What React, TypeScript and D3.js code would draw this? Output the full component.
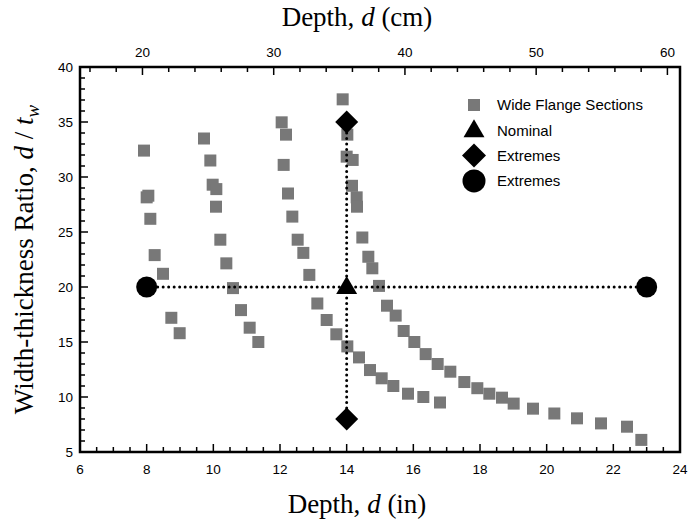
import React, { useRef, useEffect } from 'react';
import * as d3 from 'd3';

// wide flange sections: depth (in) and d/tw ratio
const wideFlangeDepth = [
  7.92, 8.0, 8.05, 8.11, 8.24, 8.49, 8.74, 8.99,
  9.72, 9.91, 9.98, 10.09, 10.08, 10.21, 10.39, 10.59, 10.83, 11.09, 11.35,
  12.05, 12.18, 12.11, 12.24, 12.37, 12.53, 12.7, 12.88, 13.12, 13.4, 13.69, 14.02,
  14.37, 14.7, 15.05, 15.4, 15.84, 16.3, 16.8,
  13.88, 14.02, 14.0, 14.18, 14.16, 14.3, 14.31, 14.47, 14.65, 14.77, 14.97, 15.21,
  15.47, 15.71, 16.03, 16.37, 16.73, 17.11, 17.53, 17.92, 18.28, 18.66, 19.01,
  19.59, 20.23, 20.91, 21.63, 22.41, 22.84,
];
const wideFlangeRatio = [
  32.4, 28.15, 28.3, 26.2, 22.9, 21.2, 17.2, 15.8,
  33.5, 31.5, 29.3, 28.9, 27.3, 24.3, 22.15, 19.9, 17.9, 16.3, 15.0,
  34.97, 33.85, 31.1, 28.5, 26.4, 24.3, 23.1, 21.1, 18.5, 17.0, 15.7, 14.6,
  13.6, 12.45, 11.7, 11.0, 10.3, 10.0, 9.5,
  37.06, 33.85, 31.85, 31.55, 29.2, 28.15, 27.3, 24.5, 22.75, 21.7, 20.1, 18.3,
  17.4, 16.0, 15.0, 13.9, 13.0, 12.3, 11.36, 10.8, 10.3, 9.94, 9.4,
  8.94, 8.5, 8.06, 7.6, 7.3, 6.1,
];

const nominal = { depth: 14, ratio: 20 };
const ratioExtremes = [35, 8];   // at nominal depth
const depthExtremes = [8, 23];   // at nominal ratio

const xTicks = [6, 8, 10, 12, 14, 16, 18, 20, 22, 24];
const cmTicks = [20, 30, 40, 50, 60];
const yTicks = [5, 10, 15, 20, 25, 30, 35, 40];

const legendLabels = ['Wide Flange Sections', 'Nominal', 'Extremes', 'Extremes'];

const App = () => {
  const svgRef = useRef(null);

  useEffect(() => {
    const svg = d3.select(svgRef.current);
    svg.selectAll('*').remove();

    const margin = { top: 67, right: 9, bottom: 73, left: 80 };
    const width = 689, height = 525;
    const x = d3.scaleLinear().domain([6, 24]).range([margin.left, width - margin.right]);
    const y = d3.scaleLinear().domain([5, 40]).range([height - margin.bottom, margin.top]);
    const x0 = x(6), x1 = x(24), y0 = y(5), y1 = y(40);

    const sans = '"Liberation Sans", Arial, sans-serif';
    const serif = '"Liberation Serif", "Times New Roman", serif';

    const g = svg.append('g');

    // ticks (inward)
    const ticks = g.append('g').attr('stroke', '#000').attr('stroke-width', 1.5);
    d3.range(6, 24.01, 0.5).forEach((v) => {
      const major = Math.abs(v % 2) < 1e-6;
      const len = major ? 8 : 5;
      ticks.append('line').attr('x1', x(v)).attr('x2', x(v)).attr('y1', y0).attr('y2', y0 - len);
    });
    d3.range(16, 62.1, 2).forEach((cm) => {
      const v = cm / 2.54;
      if (v < 6 || v > 24) return;
      const len = cm % 10 === 0 ? 8 : 5;
      ticks.append('line').attr('x1', x(v)).attr('x2', x(v)).attr('y1', y1).attr('y2', y1 + len);
    });
    d3.range(5, 40.1, 1).forEach((v) => {
      const len = v % 5 === 0 ? 8 : 5;
      ticks.append('line').attr('x1', x0).attr('x2', x0 + len).attr('y1', y(v)).attr('y2', y(v));
    });

    // tick labels
    g.selectAll('text.xt').data(xTicks).enter().append('text')
      .attr('x', (d) => x(d)).attr('y', y0 + 22)
      .attr('text-anchor', 'middle').style('font-family', sans).style('font-size', '13.5px')
      .text((d) => d);
    g.selectAll('text.ct').data(cmTicks).enter().append('text')
      .attr('x', (d) => x(d / 2.54)).attr('y', y1 - 10)
      .attr('text-anchor', 'middle').style('font-family', sans).style('font-size', '13.5px')
      .text((d) => d);
    g.selectAll('text.yt').data(yTicks).enter().append('text')
      .attr('x', x0 - 7).attr('y', (d) => y(d)).attr('dy', '0.35em')
      .attr('text-anchor', 'end').style('font-family', sans).style('font-size', '13.5px')
      .text((d) => d);

    // axis titles
    const bottomTitle = g.append('text').attr('x', 357).attr('y', 513)
      .attr('text-anchor', 'middle').style('font-family', serif).style('font-size', '27px');
    bottomTitle.append('tspan').text('Depth, ');
    bottomTitle.append('tspan').style('font-style', 'italic').text('d');
    bottomTitle.append('tspan').text(' (in)');

    const topTitle = g.append('text').attr('x', 357).attr('y', 26)
      .attr('text-anchor', 'middle').style('font-family', serif).style('font-size', '27px');
    topTitle.append('tspan').text('Depth, ');
    topTitle.append('tspan').style('font-style', 'italic').text('d');
    topTitle.append('tspan').text(' (cm)');

    const yTitle = g.append('text')
      .attr('transform', `translate(33,${(y0 + y1) / 2}) rotate(-90)`)
      .attr('text-anchor', 'middle').style('font-family', serif).style('font-size', '27px');
    yTitle.append('tspan').text('Width-thickness Ratio, ');
    yTitle.append('tspan').style('font-style', 'italic').text('d');
    yTitle.append('tspan').text(' / ');
    yTitle.append('tspan').style('font-style', 'italic').text('t');
    yTitle.append('tspan').style('font-style', 'italic').style('font-size', '19px').attr('dy', 6).text('w');

    // wide flange squares
    const sq = 12;
    g.append('g').selectAll('rect').data(wideFlangeDepth).enter().append('rect')
      .attr('x', (d) => x(d) - sq / 2)
      .attr('y', (d, i) => y(wideFlangeRatio[i]) - sq / 2)
      .attr('width', sq).attr('height', sq)
      .attr('fill', '#787878');

    // dotted cross lines
    const dotted = (sel) => sel.attr('stroke', '#000').attr('stroke-width', 3)
      .attr('stroke-linecap', 'round').attr('stroke-dasharray', '0 5.5');
    g.append('line').call(dotted)
      .attr('x1', x(depthExtremes[0])).attr('x2', x(depthExtremes[1]))
      .attr('y1', y(nominal.ratio)).attr('y2', y(nominal.ratio));
    g.append('line').call(dotted)
      .attr('x1', x(nominal.depth)).attr('x2', x(nominal.depth))
      .attr('y1', y(ratioExtremes[0])).attr('y2', y(ratioExtremes[1]));

    const triangle = d3.symbol().type(d3.symbolTriangle).size(190);
    const diamond = (cx, cy, r) => `M${cx},${cy - r}L${cx + r},${cy}L${cx},${cy + r}L${cx - r},${cy}Z`;

    g.append('path').attr('d', triangle())
      .attr('transform', `translate(${x(nominal.depth)},${y(nominal.ratio) + 1})`).attr('fill', '#000');
    ratioExtremes.forEach((v) => {
      g.append('path').attr('d', diamond(x(nominal.depth), y(v), 11.5)).attr('fill', '#000');
    });
    depthExtremes.forEach((v) => {
      g.append('circle').attr('cx', x(v)).attr('cy', y(nominal.ratio)).attr('r', 10.5).attr('fill', '#000');
    });

    // legend
    const lx = 474, ly = 105, step = 25.3;
    const legend = g.append('g');
    legend.append('rect').attr('x', lx - 6).attr('y', ly - 6).attr('width', 12).attr('height', 12).attr('fill', '#787878');
    legend.append('path').attr('d', triangle()).attr('transform', `translate(${lx},${ly + step + 1})`).attr('fill', '#000');
    legend.append('path').attr('d', diamond(lx, ly + 2 * step, 12)).attr('fill', '#000');
    legend.append('circle').attr('cx', lx).attr('cy', ly + 3 * step).attr('r', 11.5).attr('fill', '#000');
    legend.selectAll('text').data(legendLabels).enter().append('text')
      .attr('x', lx + 23).attr('y', (d, i) => ly + i * step).attr('dy', '0.35em')
      .style('font-family', sans).style('font-size', '15px')
      .text((d) => d);

    // frame
    g.append('rect').attr('x', x0).attr('y', y1).attr('width', x1 - x0).attr('height', y0 - y1)
      .attr('fill', 'none').attr('stroke', '#000').attr('stroke-width', 2.5);
  }, []);

  return (
    <svg ref={svgRef} width={689} height={525}
      style={{ position: 'absolute', left: 0, top: 0, background: '#fff' }} />
  );
};

export default App;
